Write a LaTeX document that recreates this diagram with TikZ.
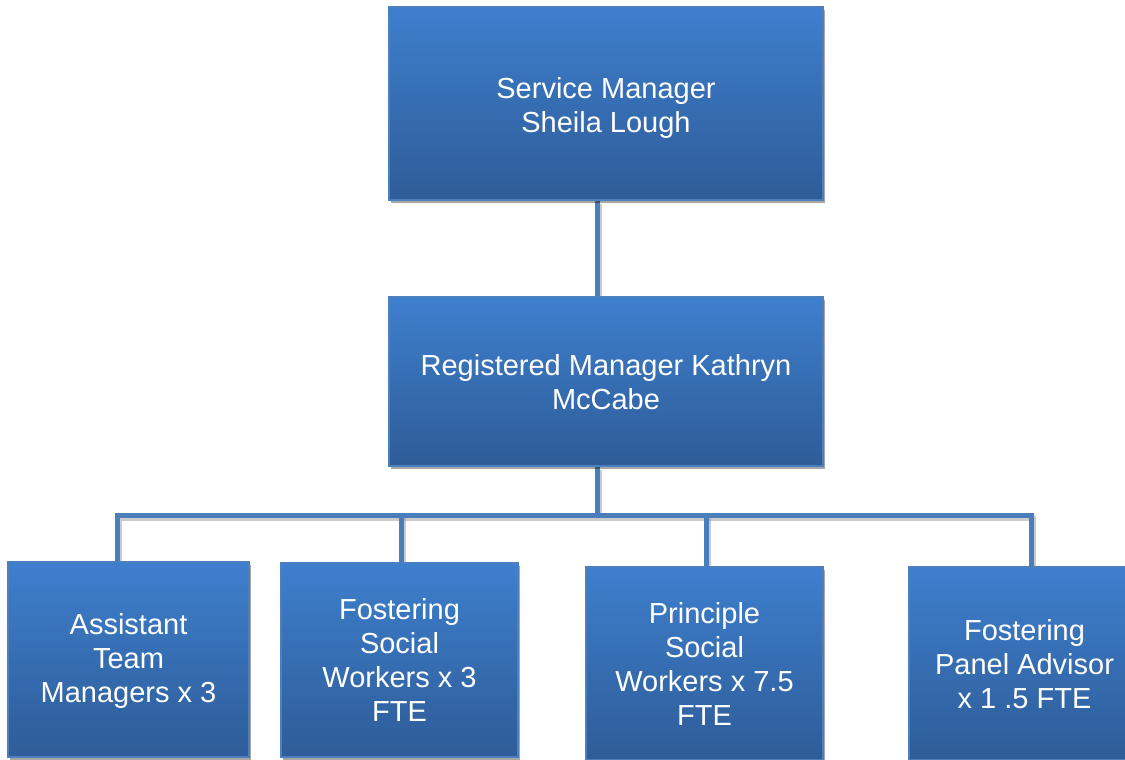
\documentclass[tikz,border=0pt]{standalone}
\usepackage{fontspec}
\setmainfont{Liberation Sans}
\usetikzlibrary{shadows,backgrounds}
\definecolor{boxtop}{HTML}{3E7FCD}
\definecolor{boxbot}{HTML}{2E5C98}
\definecolor{boxedge}{HTML}{4B7FBE}
\definecolor{linkblue}{HTML}{4A7EBB}
\tikzset{
  orgbox/.style={rectangle, draw=boxedge, line width=1.2pt,
    top color=boxtop, bottom color=boxbot, text=white, align=center,
    inner sep=0pt, font=\fontsize{29}{34}\selectfont,
    drop shadow={shadow xshift=2pt, shadow yshift=-3pt, fill=black, opacity=0.35}},
  conn/.style={draw=linkblue, line width=5pt, line join=miter,
    preaction={draw=black!45, opacity=0.45, line width=5pt,
      transform canvas={xshift=2pt, yshift=-3pt}}}
}
\begin{document}
\begin{tikzpicture}[x=1pt, y=-1pt]
  \useasboundingbox (0,0) rectangle (1125,760);
  \clip (0,0) rectangle (1125,760);

  % management boxes
  \node[orgbox, minimum width=434pt, minimum height=193pt] (sm) at (606,103.5)
    {\rule{0pt}{31pt}Service Manager\\Sheila Lough};
  \node[orgbox, minimum width=434pt, minimum height=169pt] (rm) at (606,381.5)
    {\rule{0pt}{23pt}Registered Manager Kathryn\\McCabe};

  % team boxes
  \node[orgbox, minimum width=241pt, minimum height=195pt] (atm) at (128.5,659.5)
    {\rule{0pt}{25pt}Assistant\\Team\\Managers x 3};
  \node[orgbox, minimum width=237pt, minimum height=194pt] (fsw) at (399.5,660)
    {Fostering\\Social\\Workers x 3\\FTE};
  \node[orgbox, minimum width=237pt, minimum height=193pt] (psw) at (704.5,663.5)
    {Principle\\Social\\Workers x 7.5\\FTE};
  \node[orgbox, minimum width=231pt, minimum height=193pt] (fpa) at (1024.5,663.5)
    {\rule{0pt}{23pt}Fostering\\Panel Advisor\\x 1 .5 FTE};

  \coordinate (bus) at (597,515);

  % reporting lines, drawn behind the boxes
  \begin{scope}[on background layer]
    \fill[white] (0,0) rectangle (1125,760);
    \draw[conn] ([xshift=-9pt]sm.south) -- ([xshift=-9pt]rm.north);
    \draw[conn] ([xshift=-9pt]rm.south) -- (bus);
    \draw[conn] ([xshift=-11.5pt]atm.north) |- (bus) -| ([xshift=6.5pt]fpa.north);
    \draw[conn] ([xshift=1.5pt]fsw.north) -- ([xshift=1.5pt]fsw.north |- bus);
    \draw[conn] ([xshift=1.5pt]psw.north) -- ([xshift=1.5pt]psw.north |- bus);
  \end{scope}
\end{tikzpicture}
\end{document}
